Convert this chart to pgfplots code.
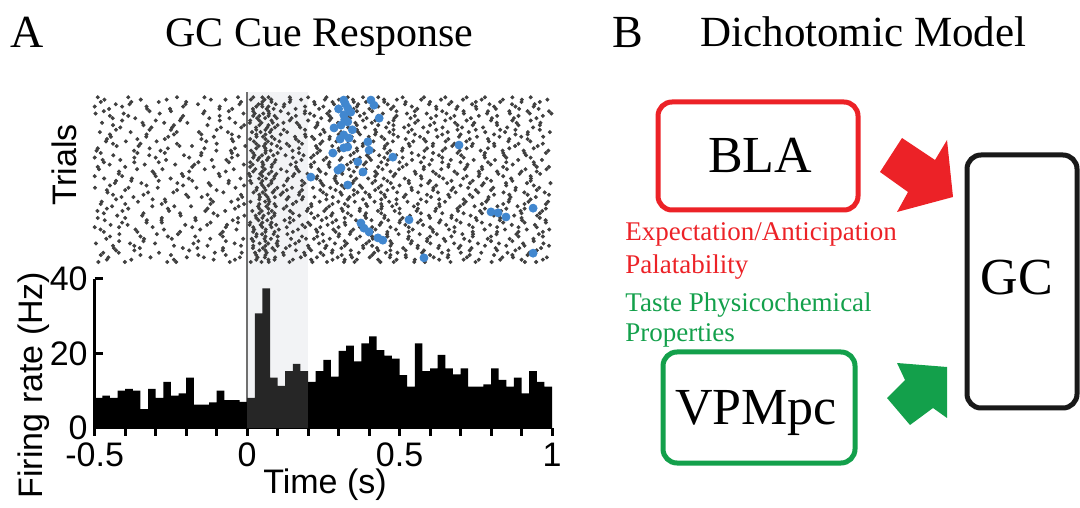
\documentclass[border=0pt]{standalone}
\usepackage{pgfplots}
\pgfplotsset{compat=1.18}
\usepackage{fontspec}
\setmainfont{Liberation Serif}
\newfontfamily\arial{Liberation Sans}
\definecolor{bred}{HTML}{EC2227}
\definecolor{bgreen}{HTML}{13A04B}
\definecolor{spikeblue}{HTML}{4187CF}
\definecolor{cueshade}{HTML}{F2F3F5}
\definecolor{cueline}{HTML}{707070}
\definecolor{histgray}{HTML}{262626}
\newcommand\axfont{\arial\fontsize{17}{17}\selectfont}
\pgfplotsset{raster/.style={only marks, mark=*, mark size=0.8pt, black!75}}

\begin{document}
\begin{tikzpicture}
\begin{scope}[x=0.5pt,y=-0.5pt]
\useasboundingbox (0,0) rectangle (1080,500);
\end{scope}

% ---------- panel A: PSTH ----------
\begin{axis}[at={(47.35pt,-214pt)}, anchor=south west, scale only axis,
    width=228.65pt, height=74.5pt,
    xmin=-0.5, xmax=1, ymin=0, ymax=40, clip=false,
    axis x line*=bottom, axis y line*=left,
    axis line style={line width=1.5pt},
    xtick={-0.5,0,0.5,1}, xticklabels={-0.5,0,0.5,1},
    minor xtick={-0.4,-0.3,-0.2,-0.1,0.1,0.2,0.3,0.4,0.6,0.7,0.8,0.9},
    ytick={0,20,40},
    xtick align=outside, ytick align=inside,
    major tick length=4pt, minor tick length=4pt,
    every tick/.style={line width=1.5pt, black},
    tick label style={font=\axfont},
    /pgf/number format/assume math mode=true]
  \fill[cueshade] (axis cs:0,0) rectangle (axis cs:0.2,90.2);
  \draw[cueline, line width=1pt] (axis cs:0,0) -- (axis cs:0,90.2);
  \addplot[const plot, fill=black, draw=none] coordinates {
    (-0.5,8.1) (-0.475,8.7) (-0.45,8.1) (-0.425,10.0) (-0.4,10.5) (-0.375,10.0)
    (-0.35,5.1) (-0.325,10.5) (-0.3,8.1) (-0.275,12.4) (-0.25,8.7) (-0.225,9.3)
    (-0.2,13.5) (-0.175,6.3) (-0.15,6.3) (-0.125,6.9) (-0.1,10.0) (-0.075,7.5)
    (-0.05,7.5) (-0.025,7.0) (0,7.0)} \closedcycle;
  \addplot[const plot, fill=histgray, draw=none] coordinates {
    (0,8.1) (0.025,30.8) (0.05,37.5) (0.075,13.5) (0.1,11.3) (0.125,15.3)
    (0.15,17.2) (0.175,15.3) (0.2,15.3)} \closedcycle;
  \addplot[const plot, fill=black, draw=none] coordinates {
    (0.2,12.4) (0.225,15.3) (0.25,18.3) (0.275,13.8) (0.3,20.7) (0.325,22.1)
    (0.35,17.9) (0.375,22.7) (0.4,24.6) (0.425,20.9) (0.45,19.4) (0.475,18.6)
    (0.5,14.2) (0.525,11.1) (0.55,22.7) (0.575,15.3) (0.6,16.0) (0.625,19.6)
    (0.65,16.0) (0.675,14.4) (0.7,16.0) (0.725,11.1) (0.75,11.1) (0.775,11.7)
    (0.8,16.0) (0.825,12.9) (0.85,11.1) (0.875,13.5) (0.9,9.3) (0.925,15.3)
    (0.95,12.4) (0.975,11.1) (1,11.1)} \closedcycle;
\end{axis}

% ---------- panel A: raster ----------
\begin{axis}[at={(47.35pt,-131pt)}, anchor=south west, scale only axis,
    width=228.65pt, height=83.5pt,
    xmin=-0.5, xmax=1, ymin=0.5, ymax=36.5, hide axis, clip=false]
  \addplot[raster] coordinates {
(-0.47,7)(-0.36,7)(-0.22,7)(-0.08,7)(0.02,7)(0.06,7)(0.09,7)(0.15,7)(0.23,7)(0.29,7)(0.34,7)(0.41,7)(0.46,7)(0.53,7)(0.61,7)(0.68,7)(0.74,7)(0.82,7)(0.89,7)(0.97,7)
(-0.43,14)(-0.31,14)(-0.27,14)(-0.12,14)(-0.03,14)(0.04,14)(0.07,14)(0.13,14)(0.18,14)(0.26,14)(0.33,14)(0.38,14)(0.44,14)(0.49,14)(0.57,14)(0.63,14)(0.71,14)(0.79,14)(0.86,14)(0.93,14)
(-0.49,21)(-0.40,21)(-0.18,21)(-0.11,21)(0.01,21)(0.05,21)(0.08,21)(0.16,21)(0.21,21)(0.27,21)(0.31,21)(0.36,21)(0.43,21)(0.51,21)(0.58,21)(0.66,21)(0.72,21)(0.77,21)(0.84,21)(0.95,21)(0.99,21)
(-0.45,28)(-0.33,28)(-0.24,28)(-0.15,28)(-0.05,28)(0.03,28)(0.06,28)(0.11,28)(0.19,28)(0.24,28)(0.30,28)(0.37,28)(0.42,28)(0.48,28)(0.55,28)(0.64,28)(0.70,28)(0.81,28)(0.88,28)(0.92,28)
(-0.48,35)(-0.38,35)(-0.29,35)(-0.20,35)(-0.02,35)(0.05,35)(0.08,35)(0.14,35)(0.22,35)(0.28,35)(0.35,35)(0.39,35)(0.45,35)(0.52,35)(0.60,35)(0.67,35)(0.75,35)(0.83,35)(0.90,35)(0.96,35)
(-0.42,5)(-0.34,5)(-0.16,5)(-0.07,5)(0.02,5)(0.06,5)(0.10,5)(0.17,5)(0.25,5)(0.32,5)(0.40,5)(0.47,5)(0.54,5)(0.59,5)(0.65,5)(0.73,5)(0.80,5)(0.87,5)(0.94,5)
(-0.46,12)(-0.39,12)(-0.26,12)(-0.13,12)(-0.04,12)(0.04,12)(0.07,12)(0.12,12)(0.20,12)(0.26,12)(0.31,12)(0.37,12)(0.44,12)(0.50,12)(0.56,12)(0.62,12)(0.69,12)(0.78,12)(0.85,12)(0.91,12)(0.98,12)
(-0.50,19)(-0.41,19)(-0.30,19)(-0.21,19)(-0.09,19)(0.01,19)(0.05,19)(0.09,19)(0.15,19)(0.23,19)(0.29,19)(0.34,19)(0.42,19)(0.48,19)(0.57,19)(0.63,19)(0.72,19)(0.76,19)(0.84,19)(0.93,19)
(-0.44,26)(-0.35,26)(-0.23,26)(-0.10,26)(0.03,26)(0.06,26)(0.08,26)(0.13,26)(0.18,26)(0.24,26)(0.33,26)(0.38,26)(0.46,26)(0.53,26)(0.61,26)(0.68,26)(0.74,26)(0.81,26)(0.89,26)(0.97,26)
(-0.47,33)(-0.32,33)(-0.25,33)(-0.14,33)(-0.06,33)(0.02,33)(0.07,33)(0.11,33)(0.19,33)(0.27,33)(0.30,33)(0.36,33)(0.41,33)(0.49,33)(0.55,33)(0.64,33)(0.71,33)(0.79,33)(0.86,33)(0.92,33)(0.99,33)
(-0.43,3)(-0.37,3)(-0.19,3)(-0.08,3)(0.04,3)(0.06,3)(0.09,3)(0.16,3)(0.21,3)(0.28,3)(0.34,3)(0.43,3)(0.47,3)(0.52,3)(0.58,3)(0.66,3)(0.73,3)(0.82,3)(0.88,3)(0.95,3)
(-0.49,10)(-0.40,10)(-0.28,10)(-0.17,10)(-0.03,10)(0.03,10)(0.05,10)(0.08,10)(0.14,10)(0.22,10)(0.26,10)(0.32,10)(0.39,10)(0.45,10)(0.51,10)(0.60,10)(0.67,10)(0.75,10)(0.83,10)(0.90,10)(0.96,10)
(-0.45,17)(-0.33,17)(-0.21,17)(-0.12,17)(-0.01,17)(0.05,17)(0.07,17)(0.12,17)(0.18,17)(0.25,17)(0.31,17)(0.37,17)(0.44,17)(0.50,17)(0.57,17)(0.62,17)(0.70,17)(0.77,17)(0.85,17)(0.94,17)
(-0.48,24)(-0.36,24)(-0.27,24)(-0.15,24)(-0.05,24)(0.02,24)(0.06,24)(0.10,24)(0.17,24)(0.23,24)(0.29,24)(0.35,24)(0.40,24)(0.46,24)(0.54,24)(0.61,24)(0.69,24)(0.78,24)(0.84,24)(0.91,24)(0.98,24)
(-0.41,31)(-0.30,31)(-0.22,31)(-0.09,31)(0.01,31)(0.04,31)(0.08,31)(0.14,31)(0.20,31)(0.27,31)(0.33,31)(0.38,31)(0.42,31)(0.48,31)(0.56,31)(0.65,31)(0.72,31)(0.80,31)(0.87,31)(0.93,31)
(-0.46,1)(-0.38,1)(-0.24,1)(-0.11,1)(-0.04,1)(0.03,1)(0.07,1)(0.09,1)(0.15,1)(0.21,1)(0.28,1)(0.32,1)(0.36,1)(0.43,1)(0.49,1)(0.55,1)(0.63,1)(0.71,1)(0.76,1)(0.83,1)(0.90,1)(0.97,1)
(-0.50,8)(-0.42,8)(-0.31,8)(-0.18,8)(-0.07,8)(0.02,8)(0.05,8)(0.08,8)(0.13,8)(0.19,8)(0.24,8)(0.30,8)(0.37,8)(0.41,8)(0.47,8)(0.53,8)(0.60,8)(0.68,8)(0.74,8)(0.82,8)(0.89,8)(0.95,8)
(-0.44,15)(-0.34,15)(-0.20,15)(-0.13,15)(-0.02,15)(0.04,15)(0.06,15)(0.11,15)(0.17,15)(0.26,15)(0.31,15)(0.35,15)(0.40,15)(0.45,15)(0.52,15)(0.59,15)(0.66,15)(0.73,15)(0.81,15)(0.86,15)(0.92,15)(0.99,15)
(-0.47,22)(-0.37,22)(-0.29,22)(-0.16,22)(-0.06,22)(0.01,22)(0.05,22)(0.09,22)(0.16,22)(0.22,22)(0.27,22)(0.34,22)(0.39,22)(0.44,22)(0.50,22)(0.57,22)(0.64,22)(0.70,22)(0.79,22)(0.85,22)(0.94,22)
(-0.43,29)(-0.32,29)(-0.25,29)(-0.10,29)(0.03,29)(0.06,29)(0.08,29)(0.12,29)(0.19,29)(0.25,29)(0.29,29)(0.36,29)(0.42,29)(0.48,29)(0.54,29)(0.62,29)(0.69,29)(0.75,29)(0.83,29)(0.88,29)(0.96,29)
(-0.49,36)(-0.39,36)(-0.23,36)(-0.14,36)(-0.03,36)(0.02,36)(0.05,36)(0.07,36)(0.14,36)(0.20,36)(0.26,36)(0.33,36)(0.38,36)(0.43,36)(0.51,36)(0.58,36)(0.65,36)(0.72,36)(0.78,36)(0.87,36)(0.93,36)
(-0.45,6)(-0.35,6)(-0.26,6)(-0.17,6)(-0.08,6)(0.03,6)(0.06,6)(0.10,6)(0.18,6)(0.23,6)(0.30,6)(0.37,6)(0.41,6)(0.46,6)(0.53,6)(0.60,6)(0.67,6)(0.74,6)(0.80,6)(0.89,6)(0.97,6)
(-0.48,13)(-0.40,13)(-0.28,13)(-0.12,13)(-0.01,13)(0.04,13)(0.07,13)(0.09,13)(0.15,13)(0.21,13)(0.28,13)(0.32,13)(0.39,13)(0.44,13)(0.49,13)(0.56,13)(0.63,13)(0.71,13)(0.77,13)(0.84,13)(0.91,13)(0.98,13)
(-0.42,20)(-0.31,20)(-0.19,20)(-0.07,20)(0.02,20)(0.05,20)(0.08,20)(0.13,20)(0.17,20)(0.24,20)(0.31,20)(0.35,20)(0.42,20)(0.47,20)(0.55,20)(0.61,20)(0.68,20)(0.76,20)(0.82,20)(0.90,20)(0.95,20)
(-0.46,27)(-0.36,27)(-0.27,27)(-0.15,27)(-0.05,27)(0.01,27)(0.06,27)(0.09,27)(0.16,27)(0.22,27)(0.27,27)(0.34,27)(0.40,27)(0.45,27)(0.52,27)(0.58,27)(0.66,27)(0.73,27)(0.79,27)(0.86,27)(0.92,27)
(-0.50,34)(-0.41,34)(-0.33,34)(-0.21,34)(-0.09,34)(0.03,34)(0.05,34)(0.07,34)(0.12,34)(0.19,34)(0.25,34)(0.30,34)(0.36,34)(0.43,34)(0.48,34)(0.54,34)(0.62,34)(0.69,34)(0.75,34)(0.81,34)(0.88,34)(0.94,34)
(-0.44,4)(-0.37,4)(-0.24,4)(-0.13,4)(-0.02,4)(0.02,4)(0.06,4)(0.10,4)(0.14,4)(0.20,4)(0.26,4)(0.32,4)(0.38,4)(0.41,4)(0.47,4)(0.56,4)(0.63,4)(0.70,4)(0.78,4)(0.85,4)(0.91,4)(0.99,4)
(-0.47,11)(-0.34,11)(-0.22,11)(-0.11,11)(0.04,11)(0.07,11)(0.09,11)(0.15,11)(0.21,11)(0.28,11)(0.33,11)(0.39,11)(0.44,11)(0.50,11)(0.57,11)(0.64,11)(0.71,11)(0.77,11)(0.83,11)(0.90,11)(0.96,11)
(-0.43,18)(-0.38,18)(-0.29,18)(-0.18,18)(-0.06,18)(0.01,18)(0.05,18)(0.08,18)(0.13,18)(0.18,18)(0.24,18)(0.29,18)(0.35,18)(0.42,18)(0.46,18)(0.53,18)(0.60,18)(0.67,18)(0.74,18)(0.80,18)(0.87,18)(0.93,18)
(-0.49,25)(-0.32,25)(-0.26,25)(-0.14,25)(-0.04,25)(0.03,25)(0.06,25)(0.11,25)(0.17,25)(0.23,25)(0.30,25)(0.36,25)(0.40,25)(0.45,25)(0.51,25)(0.59,25)(0.65,25)(0.72,25)(0.79,25)(0.86,25)(0.94,25)
(-0.45,32)(-0.39,32)(-0.21,32)(-0.09,32)(0.02,32)(0.04,32)(0.07,32)(0.09,32)(0.16,32)(0.22,32)(0.27,32)(0.33,32)(0.37,32)(0.43,32)(0.49,32)(0.55,32)(0.62,32)(0.68,32)(0.76,32)(0.82,32)(0.89,32)(0.97,32)
(-0.48,2)(-0.35,2)(-0.25,2)(-0.16,2)(-0.07,2)(0.03,2)(0.06,2)(0.12,2)(0.19,2)(0.25,2)(0.31,2)(0.34,2)(0.41,2)(0.47,2)(0.52,2)(0.60,2)(0.66,2)(0.73,2)(0.81,2)(0.87,2)(0.92,2)
(-0.41,9)(-0.33,9)(-0.28,9)(-0.12,9)(-0.03,9)(0.01,9)(0.05,9)(0.08,9)(0.14,9)(0.20,9)(0.28,9)(0.32,9)(0.38,9)(0.44,9)(0.50,9)(0.56,9)(0.63,9)(0.70,9)(0.77,9)(0.84,9)(0.91,9)(0.98,9)
(-0.46,16)(-0.40,16)(-0.23,16)(-0.10,16)(0.03,16)(0.06,16)(0.09,16)(0.13,16)(0.18,16)(0.24,16)(0.29,16)(0.35,16)(0.42,16)(0.46,16)(0.54,16)(0.61,16)(0.67,16)(0.75,16)(0.80,16)(0.88,16)(0.95,16)
(-0.50,23)(-0.37,23)(-0.30,23)(-0.19,23)(-0.05,23)(0.02,23)(0.04,23)(0.07,23)(0.15,23)(0.21,23)(0.26,23)(0.31,23)(0.37,23)(0.40,23)(0.45,23)(0.51,23)(0.58,23)(0.64,23)(0.71,23)(0.78,23)(0.85,23)(0.93,23)
(-0.44,30)(-0.34,30)(-0.24,30)(-0.13,30)(-0.01,30)(0.04,30)(0.07,30)(0.10,30)(0.17,30)(0.23,30)(0.30,30)(0.36,30)(0.43,30)(0.48,30)(0.53,30)(0.60,30)(0.69,30)(0.74,30)(0.82,30)(0.89,30)(0.96,30)
  };
  \addplot[raster] coordinates {
(-0.488,0.5)(-0.401,0.5)(-0.262,0.5)(-0.233,0.5)(-0.057,0.5)(0.012,0.5)(0.047,0.5)(0.071,0.5)(0.139,0.5)(0.214,0.5)(0.262,0.5)(0.318,0.5)(0.352,0.5)(0.437,0.5)(0.481,0.5)(0.548,0.5)(0.583,0.5)(0.667,0.5)(0.749,0.5)(0.802,0.5)(0.911,0.5)(0.948,0.5)
(-0.455,1.5)(-0.317,1.5)(-0.198,1.5)(-0.142,1.5)(-0.024,1.5)(0.034,1.5)(0.058,1.5)(0.092,1.5)(0.176,1.5)(0.229,1.5)(0.297,1.5)(0.344,1.5)(0.402,1.5)(0.468,1.5)(0.521,1.5)(0.612,1.5)(0.658,1.5)(0.721,1.5)(0.837,1.5)(0.872,1.5)(0.983,1.5)
(-0.472,2.5)(-0.421,2.5)(-0.289,2.5)(-0.106,2.5)(-0.018,2.5)(0.026,2.5)(0.064,2.5)(0.118,2.5)(0.187,2.5)(0.241,2.5)(0.278,2.5)(0.366,2.5)(0.417,2.5)(0.455,2.5)(0.493,2.5)(0.574,2.5)(0.639,2.5)(0.701,2.5)(0.768,2.5)(0.854,2.5)(0.926,2.5)
(-0.437,3.5)(-0.352,3.5)(-0.211,3.5)(-0.163,3.5)(-0.079,3.5)(0.019,3.5)(0.052,3.5)(0.083,3.5)(0.127,3.5)(0.203,3.5)(0.256,3.5)(0.309,3.5)(0.381,3.5)(0.426,3.5)(0.512,3.5)(0.559,3.5)(0.627,3.5)(0.694,3.5)(0.736,3.5)(0.815,3.5)(0.893,3.5)(0.964,3.5)
(-0.496,4.5)(-0.384,4.5)(-0.302,4.5)(-0.176,4.5)(-0.041,4.5)(0.041,4.5)(0.069,4.5)(0.097,4.5)(0.158,4.5)(0.236,4.5)(0.288,4.5)(0.327,4.5)(0.391,4.5)(0.474,4.5)(0.537,4.5)(0.601,4.5)(0.679,4.5)(0.757,4.5)(0.826,4.5)(0.905,4.5)(0.972,4.5)
(-0.462,5.5)(-0.338,5.5)(-0.247,5.5)(-0.121,5.5)(-0.013,5.5)(0.015,5.5)(0.057,5.5)(0.078,5.5)(0.144,5.5)(0.193,5.5)(0.219,5.5)(0.271,5.5)(0.359,5.5)(0.412,5.5)(0.447,5.5)(0.528,5.5)(0.591,5.5)(0.645,5.5)(0.712,5.5)(0.789,5.5)(0.861,5.5)(0.939,5.5)
(-0.419,6.5)(-0.296,6.5)(-0.227,6.5)(-0.088,6.5)(0.031,6.5)(0.049,6.5)(0.087,6.5)(0.132,6.5)(0.248,6.5)(0.302,6.5)(0.337,6.5)(0.398,6.5)(0.459,6.5)(0.497,6.5)(0.566,6.5)(0.622,6.5)(0.706,6.5)(0.741,6.5)(0.818,6.5)(0.883,6.5)(0.957,6.5)
(-0.481,7.5)(-0.366,7.5)(-0.273,7.5)(-0.154,7.5)(-0.035,7.5)(0.023,7.5)(0.061,7.5)(0.104,7.5)(0.167,7.5)(0.226,7.5)(0.283,7.5)(0.348,7.5)(0.421,7.5)(0.488,7.5)(0.543,7.5)(0.608,7.5)(0.662,7.5)(0.779,7.5)(0.846,7.5)(0.917,7.5)(0.991,7.5)
(-0.448,8.5)(-0.392,8.5)(-0.203,8.5)(-0.131,8.5)(-0.066,8.5)(0.008,8.5)(0.044,8.5)(0.076,8.5)(0.095,8.5)(0.181,8.5)(0.207,8.5)(0.264,8.5)(0.322,8.5)(0.374,8.5)(0.435,8.5)(0.519,8.5)(0.577,8.5)(0.653,8.5)(0.728,8.5)(0.797,8.5)(0.868,8.5)(0.944,8.5)
(-0.467,9.5)(-0.329,9.5)(-0.281,9.5)(-0.169,9.5)(-0.047,9.5)(0.037,9.5)(0.066,9.5)(0.123,9.5)(0.152,9.5)(0.245,9.5)(0.292,9.5)(0.357,9.5)(0.408,9.5)(0.463,9.5)(0.502,9.5)(0.569,9.5)(0.634,9.5)(0.687,9.5)(0.753,9.5)(0.829,9.5)(0.902,9.5)(0.979,9.5)
(-0.426,10.5)(-0.344,10.5)(-0.218,10.5)(-0.097,10.5)(-0.009,10.5)(0.028,10.5)(0.054,10.5)(0.089,10.5)(0.171,10.5)(0.232,10.5)(0.276,10.5)(0.341,10.5)(0.386,10.5)(0.451,10.5)(0.534,10.5)(0.596,10.5)(0.671,10.5)(0.733,10.5)(0.809,10.5)(0.876,10.5)(0.951,10.5)
(-0.491,11.5)(-0.409,11.5)(-0.256,11.5)(-0.137,11.5)(-0.072,11.5)(0.017,11.5)(0.048,11.5)(0.081,11.5)(0.141,11.5)(0.196,11.5)(0.253,11.5)(0.314,11.5)(0.369,11.5)(0.429,11.5)(0.484,11.5)(0.556,11.5)(0.617,11.5)(0.692,11.5)(0.764,11.5)(0.833,11.5)(0.897,11.5)(0.968,11.5)
(-0.443,12.5)(-0.311,12.5)(-0.239,12.5)(-0.184,12.5)(-0.028,12.5)(0.036,12.5)(0.063,12.5)(0.094,12.5)(0.129,12.5)(0.211,12.5)(0.269,12.5)(0.331,12.5)(0.394,12.5)(0.442,12.5)(0.476,12.5)(0.547,12.5)(0.631,12.5)(0.698,12.5)(0.746,12.5)(0.821,12.5)(0.887,12.5)(0.935,12.5)
(-0.477,13.5)(-0.358,13.5)(-0.268,13.5)(-0.112,13.5)(-0.052,13.5)(0.011,13.5)(0.059,13.5)(0.073,13.5)(0.161,13.5)(0.238,13.5)(0.299,13.5)(0.353,13.5)(0.418,13.5)(0.466,13.5)(0.526,13.5)(0.588,13.5)(0.649,13.5)(0.717,13.5)(0.784,13.5)(0.858,13.5)(0.923,13.5)(0.987,13.5)
(-0.412,14.5)(-0.373,14.5)(-0.193,14.5)(-0.149,14.5)(-0.016,14.5)(0.042,14.5)(0.067,14.5)(0.091,14.5)(0.136,14.5)(0.183,14.5)(0.221,14.5)(0.281,14.5)(0.336,14.5)(0.403,14.5)(0.453,14.5)(0.514,14.5)(0.603,14.5)(0.664,14.5)(0.739,14.5)(0.792,14.5)(0.864,14.5)(0.947,14.5)
(-0.458,15.5)(-0.325,15.5)(-0.242,15.5)(-0.078,15.5)(0.021,15.5)(0.051,15.5)(0.084,15.5)(0.117,15.5)(0.172,15.5)(0.249,15.5)(0.306,15.5)(0.362,15.5)(0.388,15.5)(0.439,15.5)(0.492,15.5)(0.561,15.5)(0.626,15.5)(0.684,15.5)(0.758,15.5)(0.841,15.5)(0.909,15.5)(0.976,15.5)
(-0.499,16.5)(-0.389,16.5)(-0.293,16.5)(-0.166,16.5)(-0.038,16.5)(0.032,16.5)(0.056,16.5)(0.099,16.5)(0.147,16.5)(0.216,16.5)(0.273,16.5)(0.319,16.5)(0.377,16.5)(0.431,16.5)(0.479,16.5)(0.539,16.5)(0.611,16.5)(0.676,16.5)(0.725,16.5)(0.807,16.5)(0.881,16.5)(0.958,16.5)
(-0.434,17.5)(-0.347,17.5)(-0.229,17.5)(-0.126,17.5)(-0.061,17.5)(0.014,17.5)(0.046,17.5)(0.079,17.5)(0.188,17.5)(0.244,17.5)(0.295,17.5)(0.346,17.5)(0.411,17.5)(0.471,17.5)(0.531,17.5)(0.594,17.5)(0.656,17.5)(0.731,17.5)(0.776,17.5)(0.849,17.5)(0.918,17.5)(0.995,17.5)
(-0.469,18.5)(-0.378,18.5)(-0.251,18.5)(-0.191,18.5)(-0.022,18.5)(0.039,18.5)(0.062,18.5)(0.088,18.5)(0.134,18.5)(0.228,18.5)(0.287,18.5)(0.358,18.5)(0.397,18.5)(0.448,18.5)(0.517,18.5)(0.572,18.5)(0.643,18.5)(0.709,18.5)(0.786,18.5)(0.866,18.5)(0.931,18.5)
(-0.421,19.5)(-0.304,19.5)(-0.214,19.5)(-0.093,19.5)(0.006,19.5)(0.043,19.5)(0.071,19.5)(0.096,19.5)(0.155,19.5)(0.198,19.5)(0.258,19.5)(0.312,19.5)(0.373,19.5)(0.426,19.5)(0.486,19.5)(0.553,19.5)(0.619,19.5)(0.689,19.5)(0.762,19.5)(0.824,19.5)(0.894,19.5)(0.961,19.5)
(-0.486,20.5)(-0.361,20.5)(-0.278,20.5)(-0.139,20.5)(-0.044,20.5)(0.027,20.5)(0.058,20.5)(0.111,20.5)(0.164,20.5)(0.234,20.5)(0.291,20.5)(0.334,20.5)(0.389,20.5)(0.444,20.5)(0.498,20.5)(0.579,20.5)(0.637,20.5)(0.714,20.5)(0.771,20.5)(0.852,20.5)(0.913,20.5)(0.982,20.5)
(-0.451,21.5)(-0.336,21.5)(-0.236,21.5)(-0.173,21.5)(-0.011,21.5)(0.018,21.5)(0.053,21.5)(0.082,21.5)(0.143,21.5)(0.209,21.5)(0.267,21.5)(0.328,21.5)(0.383,21.5)(0.458,21.5)(0.523,21.5)(0.598,21.5)(0.661,21.5)(0.723,21.5)(0.799,21.5)(0.871,21.5)(0.942,21.5)
(-0.474,22.5)(-0.416,22.5)(-0.266,22.5)(-0.116,22.5)(-0.068,22.5)(0.035,22.5)(0.065,22.5)(0.093,22.5)(0.178,22.5)(0.251,22.5)(0.304,22.5)(0.351,22.5)(0.406,22.5)(0.462,22.5)(0.541,22.5)(0.606,22.5)(0.668,22.5)(0.743,22.5)(0.813,22.5)(0.889,22.5)(0.967,22.5)
(-0.439,23.5)(-0.321,23.5)(-0.207,23.5)(-0.151,23.5)(-0.031,23.5)(0.024,23.5)(0.049,23.5)(0.086,23.5)(0.126,23.5)(0.185,23.5)(0.218,23.5)(0.284,23.5)(0.339,23.5)(0.393,23.5)(0.433,23.5)(0.489,23.5)(0.562,23.5)(0.629,23.5)(0.702,23.5)(0.778,23.5)(0.843,23.5)(0.915,23.5)
(-0.494,24.5)(-0.371,24.5)(-0.284,24.5)(-0.101,24.5)(-0.053,24.5)(0.013,24.5)(0.061,24.5)(0.077,24.5)(0.149,24.5)(0.239,24.5)(0.302,24.5)(0.361,24.5)(0.415,24.5)(0.469,24.5)(0.508,24.5)(0.582,24.5)(0.641,24.5)(0.697,24.5)(0.766,24.5)(0.838,24.5)(0.907,24.5)(0.988,24.5)
(-0.428,25.5)(-0.356,25.5)(-0.222,25.5)(-0.181,25.5)(-0.006,25.5)(0.038,25.5)(0.055,25.5)(0.098,25.5)(0.138,25.5)(0.226,25.5)(0.279,25.5)(0.323,25.5)(0.379,25.5)(0.452,25.5)(0.533,25.5)(0.609,25.5)(0.673,25.5)(0.737,25.5)(0.811,25.5)(0.879,25.5)(0.953,25.5)
(-0.463,26.5)(-0.398,26.5)(-0.297,26.5)(-0.134,26.5)(-0.046,26.5)(0.022,26.5)(0.068,26.5)(0.106,26.5)(0.169,26.5)(0.247,26.5)(0.293,26.5)(0.352,26.5)(0.414,26.5)(0.478,26.5)(0.545,26.5)(0.586,26.5)(0.651,26.5)(0.719,26.5)(0.793,26.5)(0.857,26.5)(0.929,26.5)
(-0.447,27.5)(-0.331,27.5)(-0.259,27.5)(-0.109,27.5)(-0.027,27.5)(0.031,27.5)(0.052,27.5)(0.081,27.5)(0.157,27.5)(0.192,27.5)(0.213,27.5)(0.271,27.5)(0.343,27.5)(0.399,27.5)(0.441,27.5)(0.495,27.5)(0.567,27.5)(0.624,27.5)(0.695,27.5)(0.754,27.5)(0.828,27.5)(0.899,27.5)(0.971,27.5)
(-0.483,28.5)(-0.382,28.5)(-0.231,28.5)(-0.158,28.5)(-0.063,28.5)(0.016,28.5)(0.044,28.5)(0.075,28.5)(0.131,28.5)(0.254,28.5)(0.308,28.5)(0.364,28.5)(0.423,28.5)(0.467,28.5)(0.529,28.5)(0.593,28.5)(0.658,28.5)(0.727,28.5)(0.781,28.5)(0.846,28.5)(0.921,28.5)(0.993,28.5)
(-0.416,29.5)(-0.314,29.5)(-0.246,29.5)(-0.086,29.5)(-0.019,29.5)(0.029,29.5)(0.066,29.5)(0.091,29.5)(0.174,29.5)(0.224,29.5)(0.289,29.5)(0.331,29.5)(0.387,29.5)(0.456,29.5)(0.515,29.5)(0.578,29.5)(0.641,29.5)(0.705,29.5)(0.774,29.5)(0.853,29.5)(0.938,29.5)
(-0.476,30.5)(-0.343,30.5)(-0.272,30.5)(-0.196,30.5)(-0.039,30.5)(0.009,30.5)(0.047,30.5)(0.084,30.5)(0.119,30.5)(0.163,30.5)(0.231,30.5)(0.298,30.5)(0.355,30.5)(0.409,30.5)(0.464,30.5)(0.551,30.5)(0.614,30.5)(0.682,30.5)(0.745,30.5)(0.819,30.5)(0.884,30.5)(0.962,30.5)
(-0.441,31.5)(-0.367,31.5)(-0.216,31.5)(-0.124,31.5)(-0.058,31.5)(0.033,31.5)(0.059,31.5)(0.097,31.5)(0.146,31.5)(0.243,31.5)(0.276,31.5)(0.338,31.5)(0.392,31.5)(0.437,31.5)(0.483,31.5)(0.536,31.5)(0.603,31.5)(0.667,31.5)(0.734,31.5)(0.803,31.5)(0.875,31.5)(0.949,31.5)
(-0.497,32.5)(-0.405,32.5)(-0.287,32.5)(-0.144,32.5)(-0.012,32.5)(0.025,32.5)(0.053,32.5)(0.072,32.5)(0.135,32.5)(0.189,32.5)(0.206,32.5)(0.263,32.5)(0.326,32.5)(0.384,32.5)(0.445,32.5)(0.524,32.5)(0.589,32.5)(0.654,32.5)(0.711,32.5)(0.787,32.5)(0.862,32.5)(0.927,32.5)(0.998,32.5)
(-0.453,33.5)(-0.328,33.5)(-0.253,33.5)(-0.091,33.5)(-0.049,33.5)(0.019,33.5)(0.064,33.5)(0.087,33.5)(0.159,33.5)(0.236,33.5)(0.296,33.5)(0.349,33.5)(0.401,33.5)(0.472,33.5)(0.558,33.5)(0.621,33.5)(0.686,33.5)(0.752,33.5)(0.816,33.5)(0.892,33.5)(0.956,33.5)
(-0.431,34.5)(-0.386,34.5)(-0.202,34.5)(-0.161,34.5)(-0.025,34.5)(0.037,34.5)(0.048,34.5)(0.094,34.5)(0.122,34.5)(0.222,34.5)(0.285,34.5)(0.364,34.5)(0.419,34.5)(0.461,34.5)(0.518,34.5)(0.597,34.5)(0.662,34.5)(0.738,34.5)(0.795,34.5)(0.869,34.5)(0.943,34.5)
(-0.468,35.5)(-0.349,35.5)(-0.264,35.5)(-0.119,35.5)(-0.071,35.5)(0.012,35.5)(0.057,35.5)(0.079,35.5)(0.142,35.5)(0.177,35.5)(0.255,35.5)(0.301,35.5)(0.347,35.5)(0.404,35.5)(0.449,35.5)(0.491,35.5)(0.571,35.5)(0.636,35.5)(0.708,35.5)(0.769,35.5)(0.839,35.5)(0.901,35.5)(0.985,35.5)
  };
  \addplot[only marks, mark=*, mark size=2pt, spikeblue] coordinates {
(0.317,35.4)(0.330,33.7)(0.317,32.2)(0.340,32.8)(0.406,35.4)(0.416,34.3)
(0.433,31.5)(0.285,29.4)(0.308,30.0)(0.330,30.7)(0.317,27.9)(0.334,27.2)
(0.330,25.3)(0.317,25.1)(0.396,26.4)(0.400,24.6)(0.281,24.0)(0.478,23.1)
(0.363,22.1)(0.308,20.8)(0.298,20.3)(0.380,19.9)(0.209,18.8)(0.330,17.1)
(0.695,25.7)(0.373,8.9)(0.383,7.8)(0.400,7.0)(0.429,5.7)(0.445,5.2)
(0.531,9.6)(0.800,11.3)(0.823,11.1)(0.849,10.2)(0.938,12.1)(0.580,1.4)
(0.938,2.4)(0.300,33.5)(0.322,34.6)(0.345,29.0)(0.305,27.0)(0.320,31.2)
  };
\end{axis}

\begin{scope}[x=0.5pt,y=-0.5pt]
% ---------- panel A: labels ----------
\node[font=\axfont, rotate=90] at (64,165) {Trials};
\node[font=\axfont, rotate=90] at (34,385) {Firing rate (Hz)};
\node[font=\axfont] at (325,485) {Time (s)};
\node[font=\fontsize{23}{23}\selectfont, anchor=base west, inner sep=0] at (10,48) {A};
\node[font=\fontsize{21}{21}\selectfont, anchor=base west, inner sep=0] at (165,47) {GC Cue Response};

% ---------- panel B: model ----------
\node[font=\fontsize{23}{23}\selectfont, anchor=base west, inner sep=0] at (612,48) {B};
\node[font=\fontsize{21.5}{21.5}\selectfont, anchor=base west, inner sep=0] at (700,47) {Dichotomic Model};

\draw[bred, line width=2.5pt, rounded corners=7pt] (658,102) rectangle (858,210);
\draw[bgreen, line width=2.5pt, rounded corners=7pt] (663,352) rectangle (855,463);
\draw[black!90, line width=2.5pt, rounded corners=7pt] (967,155) rectangle (1077,408);

\node[font=\fontsize{26}{26}\selectfont, anchor=base, inner sep=0] at (760,173) {BLA};
\node[font=\fontsize{26}{26}\selectfont, anchor=base, inner sep=0] at (756,425) {VPMpc};
\node[font=\fontsize{26}{26}\selectfont, anchor=base, inner sep=0] at (1017,295) {GC};

\fill[bred] (880,172) -- (902,138) -- (935,160) -- (947,140) -- (953,197) -- (897,212) -- (908,192) -- cycle;
\fill[bgreen] (897,363) -- (947,367) -- (947,418) -- (933,408) -- (910,425) -- (887,398) -- (905,380) -- cycle;

\begin{scope}[font=\fontsize{13.5}{13.5}\selectfont]
\node[bred, anchor=base west, inner sep=0] at (625,241) {Expectation/Anticipation};
\node[bred, anchor=base west, inner sep=0] at (625,274) {Palatability};
\node[bgreen, anchor=base west, inner sep=0] at (625,312) {Taste Physicochemical};
\node[bgreen, anchor=base west, inner sep=0] at (625,342) {Properties};
\end{scope}
\end{scope}
\end{tikzpicture}
\end{document}
